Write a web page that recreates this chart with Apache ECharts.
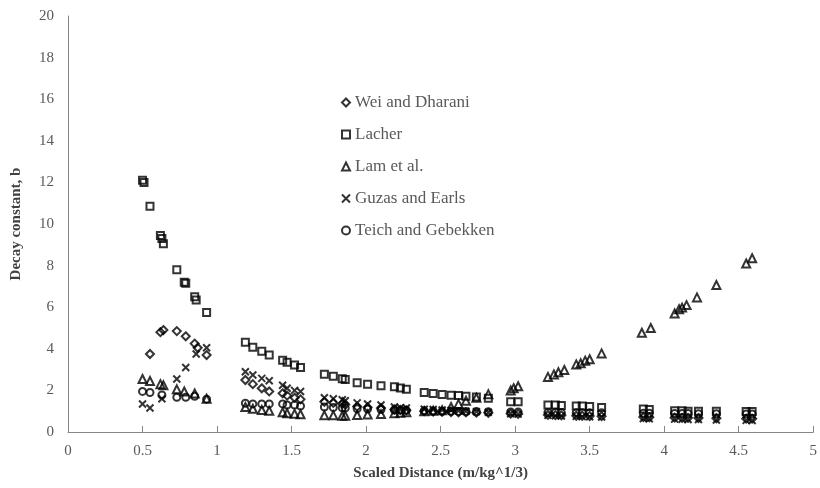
<!DOCTYPE html>
<html>
<head>
<meta charset="utf-8">
<script src="https://cdn.jsdelivr.net/npm/echarts@6/dist/echarts.min.js"></script>
<style>
  html, body { margin: 0; padding: 0; background: #fff; }
  #chart { width: 820px; height: 488px; }
</style>
</head>
<body>
<div id="chart"></div>
<script>
// Decay constant b versus scaled distance, five published fits.
var xTicks = ['0', '0.5', '1', '1.5', '2', '2.5', '3', '3.5', '4', '4.5', '5'];
var yTicks = ['0', '2', '4', '6', '8', '10', '12', '14', '16', '18', '20'];

var weiX = [0.55,0.62,0.64,0.73,0.79,0.85,0.87,0.93, 1.19,1.24,1.30,1.35, 1.44,1.47,1.52,1.56, 1.72,1.78,1.84,1.86, 1.94,2.01,2.10, 2.19,2.23,2.27, 2.39,2.45,2.51,2.57,2.62,2.67,2.74,2.82, 2.97,3.02, 3.22,3.27,3.31,3.41,3.45,3.50,3.58, 3.86,3.90, 4.07,4.12,4.16,4.23,4.35,4.55,4.59];
var weiY = [3.75,4.8,4.9,4.85,4.6,4.25,4.05,3.7, 2.5,2.3,2.1,1.95, 1.86,1.75,1.65,1.57, 1.45,1.4,1.35,1.32, 1.22,1.18,1.15, 1.08,1.06,1.04, 1.0,0.98,0.97,0.96,0.95,0.94,0.93,0.92, 0.88,0.87, 0.82,0.81,0.8,0.78,0.78,0.77,0.76, 0.72,0.71, 0.69,0.68,0.68,0.67,0.66,0.64,0.64];

var lacherX = [0.50,0.51,0.55,0.62,0.63,0.64,0.73,0.78,0.79,0.85,0.86,0.93, 1.19,1.24,1.30,1.35, 1.44,1.47,1.52,1.56, 1.72,1.78,1.84,1.86, 1.94,2.01,2.10, 2.19,2.23,2.27, 2.39,2.45,2.51,2.57,2.62,2.67,2.74,2.82, 2.97,3.02, 3.22,3.27,3.31,3.41,3.45,3.50,3.58, 3.86,3.90, 4.07,4.12,4.16,4.23,4.35,4.55,4.59];
var lacherY = [12.1,12.0,10.85,9.45,9.3,9.05,7.8,7.2,7.15,6.5,6.35,5.75, 4.32,4.08,3.88,3.7, 3.45,3.35,3.22,3.1, 2.78,2.68,2.56,2.52, 2.37,2.3,2.22, 2.18,2.12,2.05, 1.9,1.85,1.8,1.77,1.75,1.72,1.68,1.62, 1.45,1.45, 1.3,1.3,1.28,1.25,1.25,1.22,1.18, 1.1,1.08, 1.02,1.02,1.0,1.0,1.0,0.98,0.98];

var lamX = [0.50,0.55,0.62,0.64,0.73,0.78,0.85,0.93, 1.19,1.24,1.30,1.35, 1.44,1.47,1.52,1.56, 1.72,1.78,1.84,1.86, 1.94,2.01,2.10, 2.19,2.23,2.27, 2.39,2.45,2.51,2.57,2.62,2.67,2.74,2.82, 2.97,2.99,3.02, 3.22,3.26,3.29,3.33,3.41,3.44,3.47,3.50,3.58, 3.85,3.91, 4.07,4.10,4.12,4.15,4.22,4.35,4.55,4.59];
var lamY = [2.55,2.45,2.3,2.25,2.05,1.95,1.85,1.6, 1.2,1.12,1.06,1.02, 0.95,0.9,0.88,0.85, 0.8,0.8,0.78,0.78, 0.82,0.84,0.86, 0.9,0.92,0.95, 1.0,1.02,1.05,1.2,1.35,1.5,1.65,1.82, 2.0,2.1,2.2, 2.65,2.77,2.87,2.98,3.25,3.3,3.43,3.5,3.78, 4.77,5.0, 5.7,5.9,5.98,6.1,6.47,7.07,8.1,8.35];

var guzasX = [0.50,0.55,0.63,0.73,0.79,0.86,0.93, 1.19,1.24,1.30,1.35, 1.44,1.47,1.52,1.56, 1.72,1.78,1.84,1.86, 1.94,2.01,2.10, 2.19,2.23,2.27, 2.39,2.45,2.51,2.57,2.62,2.67,2.74,2.82, 2.97,3.02, 3.22,3.27,3.31,3.41,3.45,3.50,3.58, 3.86,3.90, 4.07,4.12,4.16,4.23,4.35,4.55,4.59];
var guzasY = [1.35,1.15,1.6,2.55,3.1,3.75,4.05, 2.9,2.74,2.58,2.46, 2.25,2.1,2.0,1.95, 1.65,1.6,1.55,1.5, 1.4,1.35,1.3, 1.2,1.17,1.15, 1.1,1.08,1.06,1.04,1.02,1.0,0.98,0.95, 0.88,0.86, 0.8,0.78,0.77,0.75,0.74,0.73,0.72, 0.65,0.64, 0.62,0.61,0.6,0.6,0.58,0.56,0.55];

var teichX = [0.50,0.55,0.63,0.73,0.79,0.85,0.93, 1.19,1.24,1.30,1.35, 1.44,1.47,1.52,1.56, 1.72,1.78,1.84,1.86, 1.94,2.01,2.10, 2.19,2.23,2.27, 2.39,2.45,2.51,2.57,2.62,2.67,2.74,2.82, 2.97,3.02, 3.22,3.27,3.31,3.41,3.45,3.50,3.58, 3.86,3.90, 4.07,4.12,4.16,4.23,4.35,4.55,4.59];
var teichY = [1.95,1.9,1.78,1.67,1.67,1.72,1.58, 1.38,1.35,1.35,1.35, 1.35,1.3,1.3,1.25, 1.2,1.18,1.16,1.15, 1.12,1.1,1.08, 1.06,1.05,1.04, 1.02,1.01,1.0,1.0,0.99,0.99,0.98,0.97, 0.96,0.96, 0.94,0.94,0.93,0.93,0.93,0.92,0.92, 0.9,0.9, 0.89,0.89,0.89,0.88,0.88,0.87,0.87];

var SERIF = '"Liberation Serif", "DejaVu Serif", serif';
var CROSS = 'path://M0,0L10,10M10,0L0,10';

function pairs(xs, ys) {
  return xs.map(function (x, i) { return [x, ys[i]]; });
}

function scatter(name, xs, ys, symbol, size) {
  return {
    name: name,
    type: 'scatter',
    data: pairs(xs, ys),
    symbol: symbol,
    symbolSize: size,
    itemStyle: { color: 'rgba(0,0,0,0)', borderColor: '#000', borderWidth: 2 },
    emphasis: { disabled: true }
  };
}

var chart = echarts.init(document.getElementById('chart'), null, { renderer: 'canvas' });
chart.setOption({
  animation: false,
  backgroundColor: '#fff',
  grid: { left: 68, right: 3, top: 16, bottom: 56, containLabel: false },
  legend: {
    orient: 'vertical',
    left: 336,
    top: 89,
    itemWidth: 8,
    itemHeight: 8,
    itemGap: 15,
    textStyle: { fontFamily: SERIF, fontSize: 17, color: '#595959' },
    data: ['Wei and Dharani', 'Lacher', 'Lam et al.', 'Guzas and Earls', 'Teich and Gebekken']
  },
  xAxis: {
    type: 'value',
    min: 0, max: 5, interval: 0.5,
    name: 'Scaled Distance (m/kg^1/3)',
    nameLocation: 'middle',
    nameGap: 34,
    nameTextStyle: { fontFamily: SERIF, fontSize: 15, fontWeight: 'bold', color: '#404040' },
    axisLine: { show: true, lineStyle: { color: '#868686', width: 1 } },
    axisTick: { show: true, inside: true, length: 6, lineStyle: { color: '#868686' } },
    axisLabel: {
      fontFamily: SERIF, fontSize: 15, color: '#595959', margin: 12,
      formatter: function (v) { return xTicks[Math.round(v * 2)]; }
    },
    splitLine: { show: false }
  },
  yAxis: {
    type: 'value',
    min: 0, max: 20, interval: 2,
    name: 'Decay constant, b',
    nameLocation: 'middle',
    nameGap: 44,
    nameTextStyle: { fontFamily: SERIF, fontSize: 15, fontWeight: 'bold', color: '#404040' },
    axisLine: { show: true, lineStyle: { color: '#868686', width: 1 } },
    axisTick: { show: false },
    axisLabel: {
      fontFamily: SERIF, fontSize: 15, color: '#595959', margin: 14,
      formatter: function (v) { return yTicks[Math.round(v / 2)]; }
    },
    splitLine: { show: false }
  },
  series: [
    scatter('Wei and Dharani', weiX, weiY, 'diamond', 8),
    scatter('Lacher', lacherX, lacherY, 'rect', 7),
    scatter('Lam et al.', lamX, lamY, 'triangle', 8),
    scatter('Guzas and Earls', guzasX, guzasY, CROSS, 7),
    scatter('Teich and Gebekken', teichX, teichY, 'circle', 7)
  ]
});
</script>
</body>
</html>
